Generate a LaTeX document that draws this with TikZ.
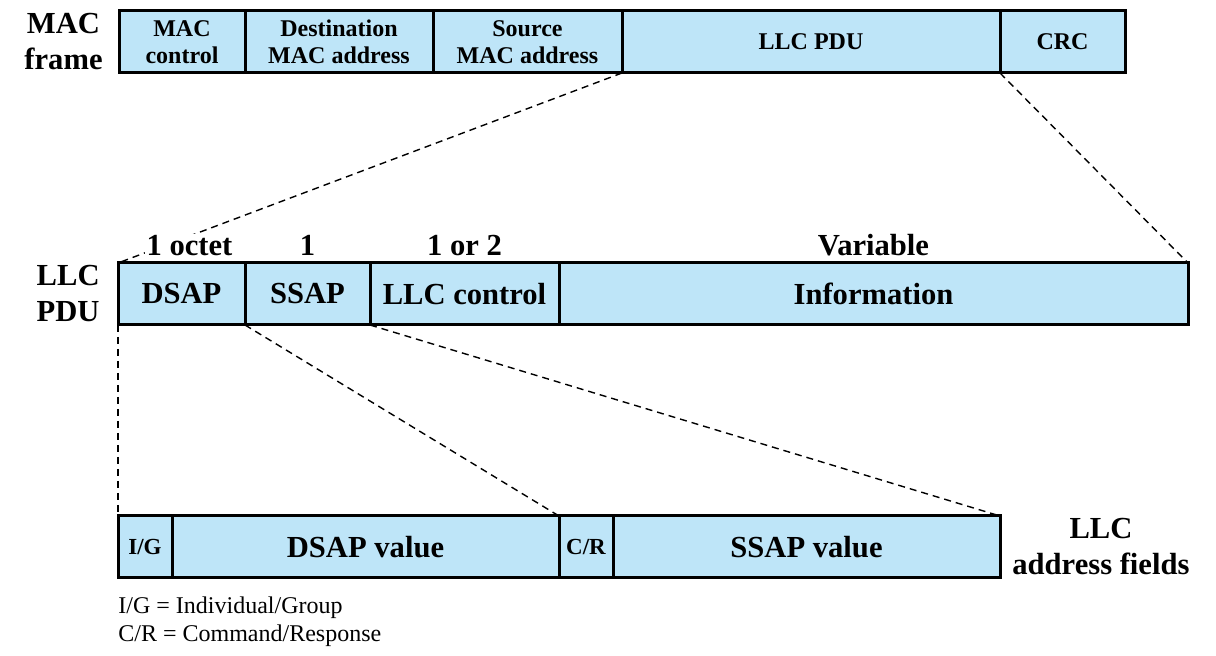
\documentclass[tikz,border=0pt]{standalone}
\usepackage{fontspec}
\setmainfont{Liberation Serif}
\usetikzlibrary{positioning}
\definecolor{fieldblue}{RGB}{190,229,248}
\tikzset{
	field/.style={draw, line width=1.5pt, fill=fieldblue, minimum height=31pt, inner sep=0pt, outer sep=0pt, align=center, font=\fontsize{15.3}{18}\selectfont\bfseries},
	macfield/.style={field, font=\fontsize{12}{13.5}\selectfont\bfseries},
	bitfield/.style={field, font=\fontsize{11.5}{13}\selectfont\bfseries},
	sidelabel/.style={align=center, inner sep=0pt, font=\fontsize{15.3}{18}\selectfont\bfseries},
	sizelabel/.style={sidelabel, fill=white, inner sep=1pt},
	keytext/.style={align=left, inner sep=0pt, font=\fontsize{12}{14}\selectfont},
	zoomline/.style={line width=0.7pt, dash pattern=on 3.5pt off 2.5pt}
}

\begin{document}
\begin{tikzpicture}[x=0.5pt, y=-0.5pt]
		%%%%% START %%%%%
		\useasboundingbox (0,0) rectangle (1216,656);
		
		% MAC frame
		\node[macfield, minimum width=63pt, anchor=north west] (macctl) at (119,11) {MAC\\control};
		\node[macfield, minimum width=94pt, right=0pt of macctl] (dstaddr) {Destination\\MAC address};
		\node[macfield, minimum width=94.5pt, right=0pt of dstaddr] (srcaddr) {Source\\MAC address};
		\node[macfield, minimum width=189pt, right=0pt of srcaddr] (llcpdu) {LLC PDU};
		\node[macfield, minimum width=62.5pt, right=0pt of llcpdu] (crc) {CRC};
		\node[sidelabel, left=8pt of macctl] (macframe) {MAC\\frame};
		
		% LLC PDU
		\node[field, minimum width=63.5pt, anchor=north west] (dsap) at (118,263) {DSAP};
		\node[field, minimum width=62.5pt, right=0pt of dsap] (ssap) {SSAP};
		\node[field, minimum width=94.5pt, right=0pt of ssap] (llcctl) {LLC control};
		\node[field, minimum width=314.5pt, right=0pt of llcctl] (info) {Information};
		\node[sidelabel, left=9pt of dsap] (llcpdulabel) {LLC\\PDU};
		
		% address fields
		\node[bitfield, minimum width=27pt, anchor=north west] (ig) at (118,516) {I/G};
		\node[field, minimum width=193.5pt, right=0pt of ig] (dsapval) {DSAP value};
		\node[bitfield, minimum width=27pt, right=0pt of dsapval] (cr) {C/R};
		\node[field, minimum width=193.5pt, right=0pt of cr] (ssapval) {SSAP value};
		\node[sidelabel, right=6pt of ssapval] (addrlabel) {LLC\\address fields};
		
		\node[keytext, anchor=north west] (key) at ([yshift=-9pt]ig.south west) {I/G = Individual/Group\\C/R = Command/Response};
		
		% zoom lines
		\draw[zoomline] (llcpdu.south west) -- (dsap.north west);
		\draw[zoomline] (llcpdu.south east) -- (info.north east);
		\draw[zoomline] (dsap.south west) -- (ig.north west);
		\draw[zoomline] (dsap.south east) -- (dsapval.north east);
		\draw[zoomline] (ssap.south east) -- (ssapval.north east);
		
		% sizes, on top of the zoom lines
		\node[sizelabel, anchor=base] (octdsap) at ([xshift=4pt, yshift=3.5pt]dsap.north) {1 octet};
		\node[sizelabel, anchor=base] (octssap) at ([yshift=3.5pt]ssap.north) {1};
		\node[sizelabel, anchor=base] (octctl) at ([yshift=3.5pt]llcctl.north) {1 or 2};
		\node[sizelabel, anchor=base] (octinfo) at ([yshift=3.5pt]info.north) {Variable};
		
		%%%%% END %%%%%
\end{tikzpicture}
\end{document}
